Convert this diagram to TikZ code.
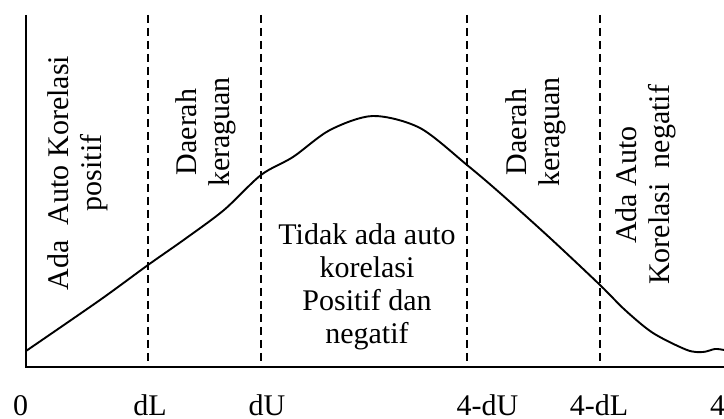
\documentclass[tikz,border=0pt]{standalone}
\usepackage{fontspec}
\setmainfont{Liberation Serif}
\begin{document}
\begin{tikzpicture}[x=1pt,y=-1pt,
  axisline/.style={line width=1.9pt},
  divider/.style={line width=1.9pt,dash pattern=on 8pt off 5pt},
  curveline/.style={line width=1.9pt,line join=round},
  lbl/.style={font=\fontsize{30}{33}\selectfont,inner sep=0pt},
  vlbl/.style={lbl,rotate=90,align=center},
  tick/.style={lbl,anchor=base}]
\useasboundingbox (0,0) rectangle (724,419);
% axes
\coordinate (top) at (26,15);
\coordinate (origin) at (26,367);
\coordinate (xend) at (724,367);
\draw[axisline] (top) -- (origin) -- (xend);
% dividers
\foreach \n/\x in {dl/148,du/261,fdu/467,fdl/600}{
  \coordinate (\n t) at (\x,15);
  \coordinate (\n b) at (\x,367);
  \draw[divider] (\n t) -- (\n b);
}
% curve
\draw[curveline] plot[smooth,tension=0.5] coordinates {
 (26,351) (100,300) (148,265) (185,239) (224,210) (261,175) (293,157)
 (330,130) (373,116) (420,128) (467,165) (500,193) (550,238) (600,285)
 (625,310) (653,333) (687,350) (703,352) (715,349) (724,350)};
% region labels
\node[vlbl] (l1) at (78,173) {Ada\ \ Auto Korelasi\\positif};
\node[vlbl] (l2) at (206,132) {Daerah\\keraguan};
\node[lbl,align=center] (l3) at (367,287) {Tidak ada auto\\korelasi\\Positif dan\\negatif};
\node[vlbl] (l4) at (536,132) {Daerah\\keraguan};
\node[vlbl] (l5) at (646,185) {Ada Auto\\Korelasi\ \ negatif};
% ticks
\node[tick] (t0) at (20.5,416) {0};
\node[tick] (t1) at (150,416) {dL};
\node[tick] (t2) at (267,416) {dU};
\node[tick] (t3) at (487.5,416) {4-dU};
\node[tick] (t4) at (599,416) {4-dL};
\node[tick] (t5) at (717.5,416) {4};
\end{tikzpicture}
\end{document}
